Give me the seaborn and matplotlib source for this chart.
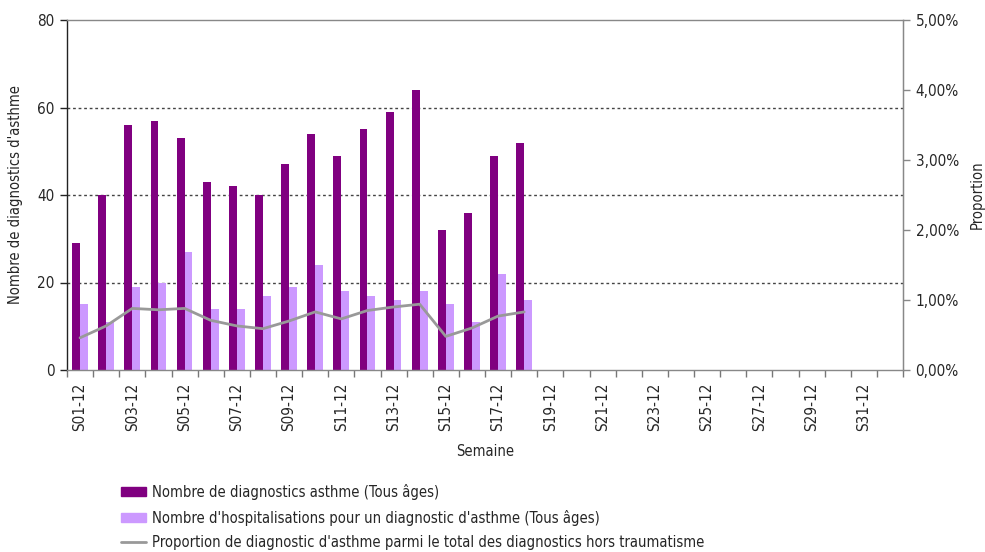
"""Asthme : diagnostics et hospitalisations par semaine"""
import numpy as np
import pandas as pd
import matplotlib
matplotlib.use("Agg")
import matplotlib.pyplot as plt
from matplotlib.patches import Patch
from matplotlib.lines import Line2D
from matplotlib.ticker import FuncFormatter, FixedLocator
import seaborn as sns

# data
weeks = [f"S{i:02d}-12" for i in range(1, 33)]
n_diag = [29, 40, 56, 57, 53, 43, 42, 40, 47, 54, 49, 55, 59, 64, 32, 36, 49, 52]
n_hosp = [15, 11, 19, 20, 27, 14, 14, 17, 19, 24, 18, 17, 16, 18, 15, 11, 22, 16]
prop = [0.46, 0.63, 0.88, 0.86, 0.88, 0.71, 0.63, 0.59, 0.70, 0.83,
        0.73, 0.85, 0.90, 0.94, 0.48, 0.60, 0.77, 0.83]

lab_diag = "Nombre de diagnostics asthme (Tous âges)"
lab_hosp = "Nombre d'hospitalisations pour un diagnostic d'asthme (Tous âges)"
lab_prop = "Proportion de diagnostic d'asthme parmi le total des diagnostics hors traumatisme"

c_diag = "#800080"
c_hosp = "#CC99FF"
c_prop = "#999999"

sns.set_style("white")
plt.rcParams["font.family"] = ["DejaVu Sans"]
plt.rcParams["font.stretch"] = "condensed"
plt.rcParams["font.size"] = 10

df = pd.concat([
    pd.DataFrame({"semaine": weeks[:len(n_diag)], "valeur": n_diag, "serie": lab_diag}),
    pd.DataFrame({"semaine": weeks[:len(n_hosp)], "valeur": n_hosp, "serie": lab_hosp}),
])

fig = plt.figure(figsize=(9.85, 5.52), dpi=100)
ax = fig.add_axes([67 / 985, 1 - 370 / 552, 836 / 985, 350 / 552])

sns.barplot(data=df, x="semaine", y="valeur", hue="serie", order=weeks,
            hue_order=[lab_diag, lab_hosp], palette=[c_diag, c_hosp],
            width=0.6, gap=0, errorbar=None, legend=False, saturation=1,
            linewidth=0, ax=ax)

ax.set_xlim(-0.5, len(weeks) - 0.5)
ax.set_ylim(0, 80)
ax.set_yticks([0, 20, 40, 60, 80])
for y in [20, 40, 60]:
    ax.axhline(y, color="#444444", lw=1, ls=(0, (2, 2)), zorder=0)

# x ticks: labels on every other week, tick marks between weeks
pos = np.arange(len(weeks))
ax.set_xticks(pos[::2])
ax.set_xticklabels(weeks[::2], rotation=90, fontsize=11)
ax.xaxis.set_minor_locator(FixedLocator(np.arange(-0.5, len(weeks), 1)))
ax.tick_params(axis="x", which="major", length=0, pad=9)
ax.tick_params(axis="x", which="minor", length=5, color="#777777", width=1)
ax.tick_params(axis="y", length=5, width=1, color="#222222", labelsize=11, pad=4)
ax.yaxis.set_ticks_position("left")
ax.xaxis.set_ticks_position("bottom")

ax.set_xlabel("Semaine", fontsize=10.5, labelpad=9)
ax.set_ylabel("Nombre de diagnostics d'asthme", fontsize=10.5, labelpad=10)

for s in ["top", "bottom", "right"]:
    ax.spines[s].set_color("#888888")
    ax.spines[s].set_linewidth(1)
ax.spines["left"].set_color("#222222")
ax.spines["left"].set_linewidth(1)

# proportion line on the right axis
ax2 = ax.twinx()
sns.lineplot(x=pos[:len(prop)], y=prop, color=c_prop, lw=2, ax=ax2)
ax2.set_ylim(0, 5)
ax2.set_yticks([0, 1, 2, 3, 4, 5])
ax2.yaxis.set_major_formatter(FuncFormatter(lambda v, p: f"{v:.2f}%".replace(".", ",")))
ax2.tick_params(axis="y", length=5, width=1, color="#888888", labelsize=11, pad=4)
ax2.set_ylabel("Proportion", fontsize=10.5, labelpad=8)
for s in ["top", "bottom", "left"]:
    ax2.spines[s].set_visible(False)
ax2.spines["right"].set_color("#888888")
ax2.set_xlim(-0.5, len(weeks) - 0.5)

handles = [Patch(facecolor=c_diag, edgecolor=c_diag),
           Patch(facecolor=c_hosp, edgecolor=c_hosp),
           Line2D([], [], color=c_prop, lw=2)]
fig.legend(handles, [lab_diag, lab_hosp, lab_prop], loc="upper left",
           bbox_to_anchor=(121 / 985, 1 - 484 / 552), frameon=False,
           fontsize=10.6, handlelength=1.7, handleheight=0.6, handletextpad=0.4,
           labelspacing=0.65, borderpad=0, borderaxespad=0)

fig.savefig("out.png", dpi=100)
